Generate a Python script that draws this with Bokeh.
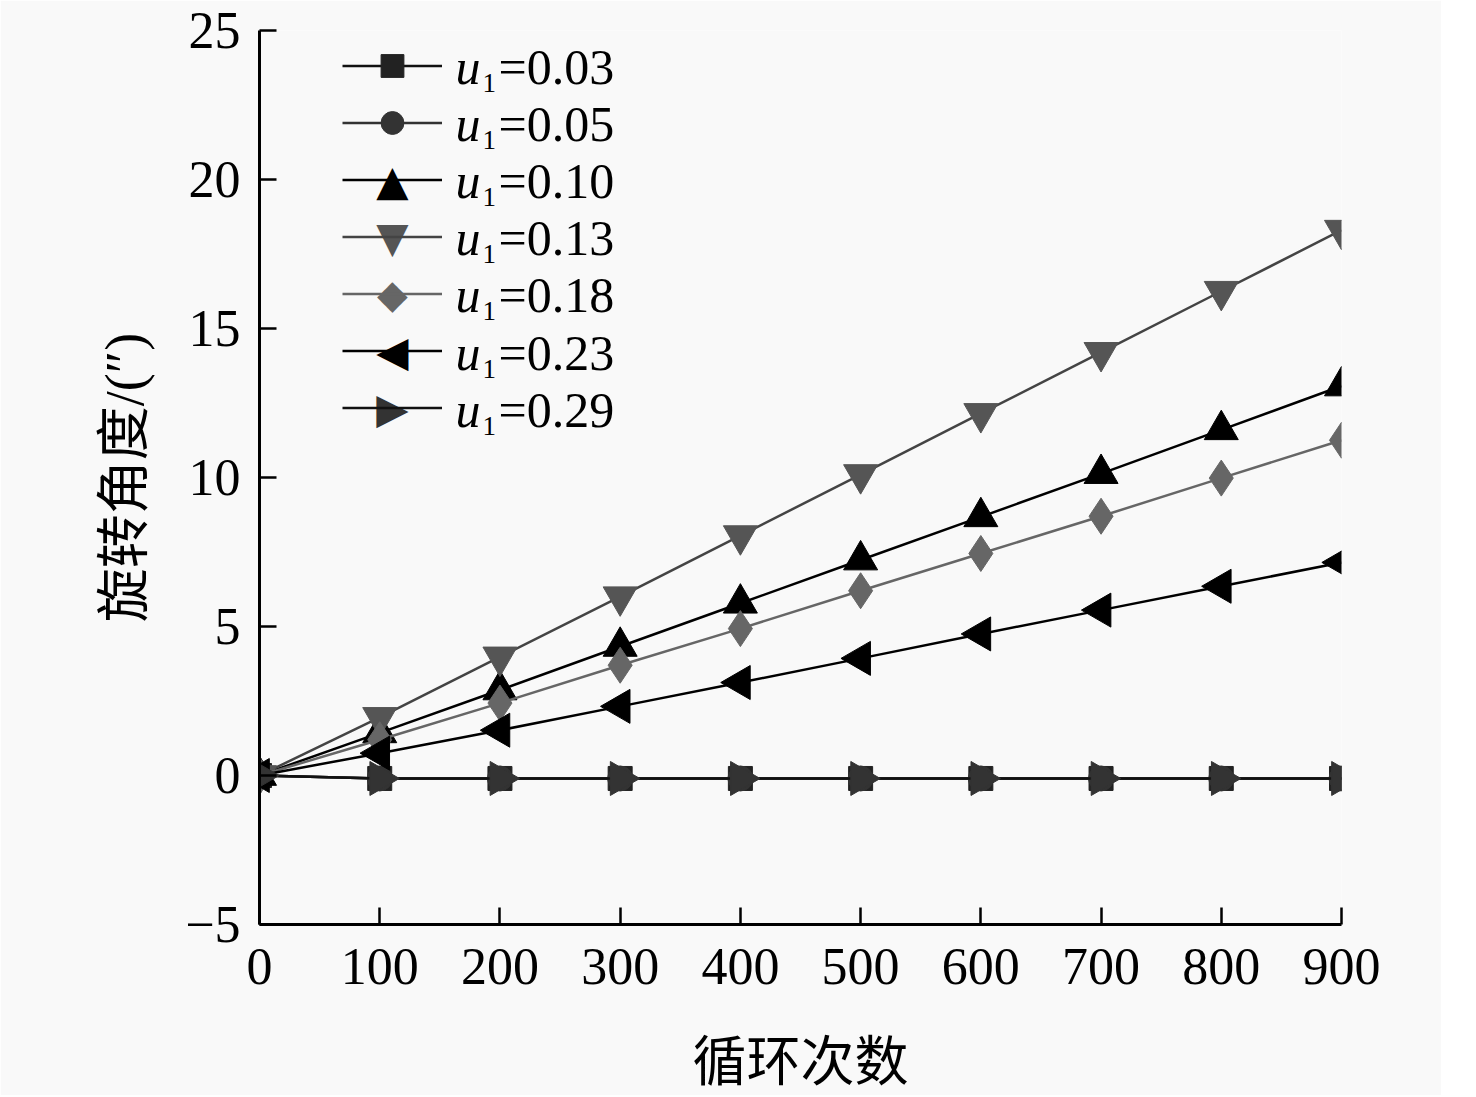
import math
from bokeh.plotting import figure
from bokeh.models import FixedTicker, Legend, LegendItem, Label
from bokeh.embed import file_html
from bokeh.resources import INLINE

# ---- data ----
cycles = [0, 100, 200, 300, 400, 500, 600, 700, 800, 900]
u_labels = ["0.03", "0.05", "0.10", "0.13", "0.18", "0.23", "0.29"]
s003 = [0, -0.1, -0.1, -0.1, -0.1, -0.1, -0.1, -0.1, -0.1, -0.1]
s005 = [0, -0.1, -0.1, -0.1, -0.1, -0.1, -0.1, -0.1, -0.1, -0.1]
s010 = [0, 1.43, 2.87, 4.33, 5.78, 7.23, 8.68, 10.13, 11.6, 13.07]
s013 = [0, 1.95, 3.98, 6.0, 8.05, 10.1, 12.15, 14.2, 16.25, 18.3]
s018 = [0, 1.2, 2.43, 3.7, 4.93, 6.2, 7.45, 8.7, 9.98, 11.25]
s023 = [0, 0.75, 1.52, 2.32, 3.12, 3.93, 4.75, 5.55, 6.35, 7.15]
s029 = [0, -0.1, -0.1, -0.1, -0.1, -0.1, -0.1, -0.1, -0.1, -0.1]
x_ticks = [0, 100, 200, 300, 400, 500, 600, 700, 800, 900]
y_ticks = [-5, 0, 5, 10, 15, 20, 25]
x_title = "循环次数"
y_title = "旋转角度/(″)"

series = [s003, s005, s010, s013, s018, s023, s029]
# sym: legend symbol drawn as text (None -> Bokeh's own legend marker)
styles = [
    dict(marker="square", line="#111111", fill="#222222", size=24, angle=0.0, sym=None, fs=42),
    dict(marker="circle", line="#333333", fill="#333333", size=25, angle=0.0, sym=None, fs=42),
    dict(marker="triangle", line="#000000", fill="#000000", size=34, angle=0.0, sym="\u25B2", fs=42),
    dict(marker="inverted_triangle", line="#444444", fill="#555555", size=34, angle=0.0, sym="\u25BC", fs=42),
    dict(marker="diamond", line="#666666", fill="#666666", size=36, angle=0.0, sym="\u25C6", fs=40),
    dict(marker="triangle", line="#000000", fill="#000000", size=34, angle=math.pi / 2, sym="\u25C0", fs=42),
    dict(marker="triangle", line="#111111", fill="#333333", size=34, angle=-math.pi / 2, sym="\u25B6", fs=42),
]

BG = "#f9f9f9"
SERIF = "'Liberation Serif', 'Noto Sans CJK SC'"

p = figure(
    frame_width=1082, frame_height=894,
    min_border_left=259, min_border_top=30, min_border_right=100, min_border_bottom=160,
    x_range=(0, 900), y_range=(-5, 25),
    output_backend="svg", toolbar_location=None,
    background_fill_color=BG, border_fill_color=BG,
)
p.outline_line_color = None
p.grid.visible = False

for ax in (p.xaxis[0], p.yaxis[0]):
    ax.axis_line_width = 3
    ax.axis_line_color = "#000000"
    ax.major_tick_in = 17
    ax.major_tick_out = 0
    ax.major_tick_line_width = 2.5
    ax.minor_tick_line_color = None
    ax.major_label_text_font = SERIF
    ax.major_label_text_font_size = "52px"
    ax.major_label_text_color = "#000000"
    ax.axis_label_text_font = SERIF
    ax.axis_label_text_font_size = "54px"
    ax.axis_label_text_font_style = "normal"
    ax.axis_label_text_color = "#000000"

p.xaxis[0].ticker = FixedTicker(ticks=x_ticks)
p.yaxis[0].ticker = FixedTicker(ticks=y_ticks)
p.yaxis[0].major_label_overrides = {t: ("\u2212" + str(-t) if t < 0 else str(t)) for t in y_ticks}
p.xaxis[0].major_label_standoff = 24
p.yaxis[0].major_label_standoff = 19
p.xaxis[0].axis_label = x_title
p.yaxis[0].axis_label = y_title
p.xaxis[0].axis_label_standoff = 46
p.yaxis[0].axis_label_standoff = 27

LEG_BOTTOM = 488
ROW = 57
n = len(series)
items = []
for i, (ys, st) in enumerate(zip(series, styles)):
    lr = p.line(cycles, ys, line_color=st["line"], line_width=2.5)
    sr = p.scatter(cycles, ys, marker=st["marker"], size=st["size"], angle=st["angle"],
                   fill_color=st["fill"], line_color=st["fill"], line_width=1)
    if st["sym"] is None:
        items.append(LegendItem(label=" ", renderers=[lr, sr]))
    else:
        items.append(LegendItem(label=" ", renderers=[lr]))
        cy = LEG_BOTTOM + (n - i - 0.5) * ROW
        p.add_layout(Label(x=83 + 50, y=cy, x_units="screen", y_units="screen", text=st["sym"],
                           text_font="DejaVu Sans", text_font_size=f"{st['fs']}px",
                           text_align="center", text_baseline="middle",
                           text_color=st["fill"]))

legend = Legend(items=items, location=(83, LEG_BOTTOM), orientation="vertical",
                glyph_width=100, glyph_height=ROW, label_height=ROW, label_width=1,
                spacing=0, padding=0, margin=0, label_standoff=0,
                label_text_font_size="10px",
                border_line_color=None, background_fill_alpha=0)
p.add_layout(legend, "center")

row_h = 57.2
for i, lab in enumerate(u_labels):
    base = 858 - i * row_h
    p.add_layout(Label(x=196, y=base, x_units="screen", y_units="screen", text="u",
                       text_font=SERIF, text_font_style="italic", text_font_size="50px",
                       text_baseline="alphabetic", text_color="#000000"))
    p.add_layout(Label(x=223, y=base - 16, x_units="screen", y_units="screen", text="1",
                       text_font=SERIF, text_font_size="27px",
                       text_baseline="alphabetic", text_color="#000000"))
    p.add_layout(Label(x=239, y=base, x_units="screen", y_units="screen", text="=" + lab,
                       text_font=SERIF, text_font_size="50px",
                       text_baseline="alphabetic", text_color="#000000"))

open("out.html", "w").write(file_html(p, INLINE))
